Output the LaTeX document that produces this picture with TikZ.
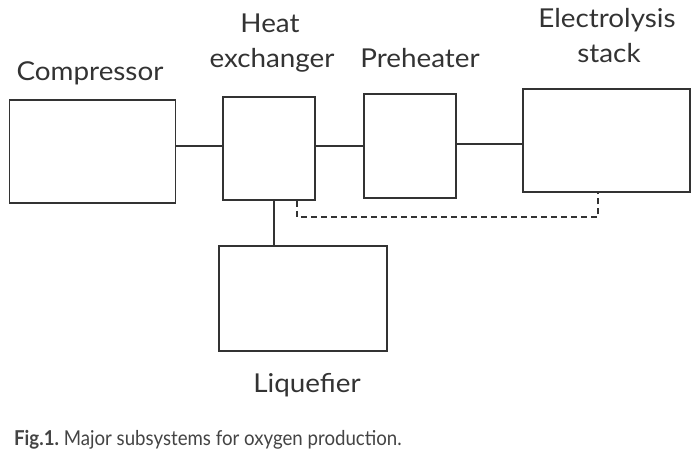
\documentclass[tikz,border=0pt]{standalone}
\usepackage{fontspec}
\setmainfont{Lato}
\newfontfamily\lblfont[FakeStretch=1.07]{Lato}
\newfontfamily\capfont[FakeStretch=0.91]{Lato}
\usetikzlibrary{calc}
\definecolor{ink}{HTML}{333333}
\definecolor{capink}{HTML}{444444}
\begin{document}
\begin{tikzpicture}[x=1pt,y=-1pt,
  unit/.style={draw=ink,line width=1.5pt,rectangle,inner sep=0pt},
  lbl/.style={anchor=base,text=ink,font=\lblfont\fontsize{26}{30}\selectfont,inner sep=0pt},
  link/.style={draw=ink,line width=1.5pt},
  back/.style={draw=ink,line width=1.5pt,dash pattern=on 6pt off 4pt}]
\useasboundingbox[fill=white] (0,0) rectangle (700,457);
% boxes
\node[unit,minimum width=166pt,minimum height=103pt] (comp) at (92.5,151.5) {};
\node[unit,minimum width=92pt,minimum height=103pt] (hx) at (269,148.5) {};
\node[unit,minimum width=92pt,minimum height=104pt] (pre) at (410,146) {};
\node[unit,minimum width=167pt,minimum height=103pt] (stack) at (606.5,140.5) {};
\node[unit,minimum width=168pt,minimum height=105pt] (liq) at (303,298.5) {};
% labels
\node[lbl] (lcomp) at (90,81) {Compressor};
\node[lbl] (lhx1) at (270,33) {Heat};
\node[lbl] (lhx2) at (272,68) {exchanger};
\node[lbl] (lpre) at (420,68) {Preheater};
\node[lbl] (lst1) at (607,28) {Electrolysis};
\node[lbl] (lst2) at (609,63) {stack};
\node[lbl] (lliq) at (307,392) {Liquefier};
% connectors
\draw[link] (comp.east |- 0,146) -- (hx.west |- 0,146);
\draw[link] (hx.east |- 0,146) -- (pre.west |- 0,146);
\draw[link] (pre.east |- 0,144) -- (stack.west |- 0,144);
\draw[link] (hx.south -| 274,0) -- (liq.north -| 274,0);
\coordinate (dturn) at (297,217);
\draw[back] (hx.south -| dturn) -- (dturn) -| (stack.south -| 598,0);
% caption
\node[anchor=base west,inner sep=0pt,text=capink,font=\capfont\fontsize{20.5}{24}\selectfont] (cap) at (14,445) {\textbf{Fig.1.}\ Major subsystems for oxygen production.};
\end{tikzpicture}
\end{document}
